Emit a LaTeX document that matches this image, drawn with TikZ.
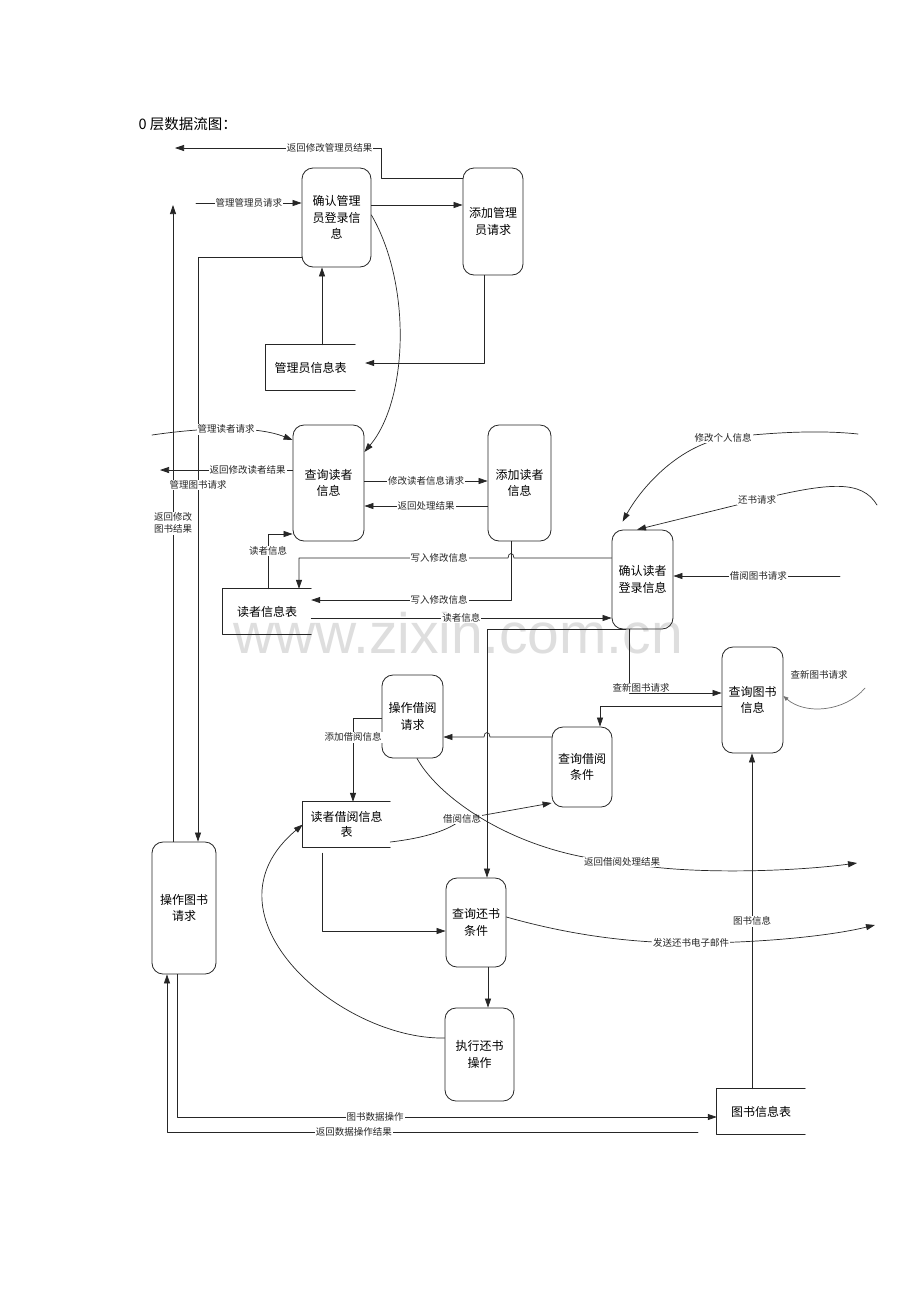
\documentclass[tikz,border=0pt]{standalone}
\usepackage{fontspec}
\newfontfamily\cjk{Noto Sans CJK SC}
\newfontfamily\wmfont{Liberation Sans}
\usetikzlibrary{arrows.meta,calc}

\begin{document}
\begin{tikzpicture}[x=1pt, y=-1pt, line cap=round, line join=round,
  proc/.style={draw=black!85, line width=0.8pt, rounded corners=11pt, align=center, inner sep=0pt,
    font=\cjk\fontsize{12}{16.5}\selectfont},
  datastore/.style={align=center, inner sep=0pt, font=\cjk\fontsize{12}{15}\selectfont},
  wire/.style={draw=black!85, line width=0.8pt},
  flow/.style={draw=black!85, line width=0.7pt, -{Triangle[length=9pt,width=6pt]}},
  lbl/.style={fill=white, inner sep=1pt, text=black!85, font=\cjk\fontsize{9.5}{11}\selectfont}]

% === Page frame ===
\fill[white] (0,0) rectangle (920,1302);
\useasboundingbox (0,0) rectangle (920,1302);
\def\opentab#1{\draw[wire] (#1.north east) -- (#1.north west) -- (#1.south west) -- (#1.south east);}

% === Title and watermark ===
\node[text=black!13, font=\wmfont\fontsize{57}{60}\selectfont] (wmark) at (458,633) {www.zixin.com.cn};
\node[anchor=west, font=\cjk\fontsize{14.5}{16}\selectfont] (title) at (135,124) {0 层数据流图：};

% === Processes ===
\node[proc, minimum width=69pt, minimum height=99pt]  (cfmadm)  at (336.5,217.5)  {确认管理\\员登录信\\息};
\node[proc, minimum width=60pt, minimum height=107pt] (addadm)  at (493,221.5)    {添加管理\\员请求};
\node[proc, minimum width=71pt, minimum height=116pt] (qryrdr)  at (328.5,483)    {查询读者\\信息};
\node[proc, minimum width=63pt, minimum height=116pt] (addrdr)  at (519.5,483)    {添加读者\\信息};
\node[proc, minimum width=61pt, minimum height=99pt]  (cfmrdr)  at (642.5,579.5)  {确认读者\\登录信息};
\node[proc, minimum width=61pt, minimum height=106pt] (qrybook) at (752.5,700)    {查询图书\\信息};
\node[proc, minimum width=61pt, minimum height=83pt]  (oplend)  at (412.5,716.5)  {操作借阅\\请求};
\node[proc, minimum width=60pt, minimum height=80pt]  (qrylend) at (582,767)      {查询借阅\\条件};
\node[proc, minimum width=64pt, minimum height=132pt] (opbook)  at (184,908)      {操作图书\\请求};
\node[proc, minimum width=60pt, minimum height=89pt]  (qryret)  at (476,922.5)    {查询还书\\条件};
\node[proc, minimum width=69pt, minimum height=93pt]  (doret)   at (479.5,1054.5) {执行还书\\操作};

% === Data stores ===
\node[datastore, minimum width=89pt, minimum height=45pt] (admtab)  at (310.5,367.5) {管理员信息表};
\node[datastore, minimum width=88pt, minimum height=45pt] (rdrtab)  at (267,611.5)   {读者信息表};
\node[datastore, minimum width=87pt, minimum height=45pt] (lendtab) at (346.5,824.5) {读者借阅信息\\表};
\node[datastore, minimum width=88pt, minimum height=45pt] (booktab) at (761,1111.5)  {图书信息表};
\opentab{admtab}
\opentab{rdrtab}
\opentab{lendtab}
\opentab{booktab}

% === Administrator flows ===
\coordinate (retadm) at (175,148);
\coordinate (reqadm) at (196,203);
\draw[flow] (addadm.west |- 0,178) -- (381,178) -- (381,148) -- node[lbl, pos=0.25] (lretadm) {返回修改管理员结果} (retadm);
\draw[flow] (reqadm) -- node[lbl] (lreqadm) {管理管理员请求} (cfmadm.west |- reqadm);
\draw[flow] (cfmadm.east |- 0,205) -- (addadm.west |- 0,205);
\draw[flow] (admtab.north -| 322,0) -- (cfmadm.south -| 322,0);
\draw[flow] (addadm.south -| 484,0) |- ($(admtab.east)+(10,-4.5)$);
\draw[flow] (cfmadm.east |- 0,215) .. controls (412,285) and (408,400) .. (qryrdr.east |- 0,452);

% === Left trunk lines ===
\coordinate (retbook) at (173,205);
\draw[flow] (opbook.north -| retbook) -- node[lbl, align=center, font=\cjk\fontsize{9.5}{12}\selectfont] (lretbook) {返回修改\\图书结果} (retbook);
\draw[flow] (cfmadm.west |- 0,257) -- (198,257) -- node[lbl, pos=0.39] (lmgbook) {管理图书请求} (opbook.north -| 198,0);

% === Reader flows ===
\coordinate (reqrdr) at (152,435);
\coordinate (retrdr) at (160,470);
\draw[flow] (reqrdr) .. controls (200,428) and (255,425) .. node[lbl] (lreqrdr) {管理读者请求} (qryrdr.west |- 0,440);
\draw[flow] (qryrdr.west |- retrdr) -- node[lbl, pos=0.34] (lretrdr) {返回修改读者结果} (retrdr);
\draw[flow] (qryrdr.east |- 0,481) -- node[lbl] (lmodrdr) {修改读者信息请求} (addrdr.west |- 0,481);
\draw[flow] (addrdr.west |- 0,506) -- node[lbl] (lretproc) {返回处理结果} (qryrdr.east |- 0,506);
\draw[flow] (rdrtab.north -| 268,0) -- node[lbl, pos=0.69] (lrdrinfo) {读者信息} (268,534) -- (qryrdr.west |- 0,534);
\draw[flow] (cfmrdr.west |- 0,558) -- (514,558) .. controls (514,552) and (508,552) .. (508,558)
  -- node[lbl, pos=0.33] (lwrite1) {写入修改信息} (299,558) -- (rdrtab.north -| 299,0);
\draw[flow] (addrdr.south -| 511,0) |- node[lbl, pos=0.68] (lwrite2) {写入修改信息} (rdrtab.east |- 0,600);
\draw[flow] (rdrtab.east |- 0,618) -- node[lbl] (lrdrinfo2) {读者信息} (cfmrdr.west |- 0,618);

% === Incoming reader requests ===
\coordinate (modme) at (858,434);
\coordinate (retreq) at (877,505);
\coordinate (lendreq) at (840,576);
\draw[flow] (modme) .. controls (820,430) and (775,432) .. (723,438) node[lbl] (lmodme) {修改个人信息}
  .. controls (675,448) and (640,490) .. ($(cfmrdr.north west)+(11,-8)$);
\draw[flow] (retreq) .. controls (862,480) and (830,482) .. (757,500) node[lbl] (lretreq) {还书请求} -- (cfmrdr.north -| 637,0);
\draw[flow] (lendreq) -- node[lbl, pos=0.49] (llendreq) {借阅图书请求} (cfmrdr.east |- lendreq);

% === Lending flows ===
\draw[flow] (cfmrdr.south -| 626,0) -| (qryret.north -| 487,0);
\draw[flow] (cfmrdr.south -| 629,0) |- node[lbl, pos=0.5, xshift=12pt, yshift=5pt] (lnewreq) {查新图书请求} (qrybook.west |- 0,693);
\coordinate (newbook) at (865,688);
\draw[flow, draw=black!55, -{Triangle[length=5pt,width=4pt]}] (newbook) .. controls (845,712) and (805,715) .. (qrybook.east |- 0,696);
\node[lbl, fill=none] (lnewbook) at (819,675) {查新图书请求};
\draw[flow] (qrybook.west |- 0,706) -| (qrylend.north -| 600,0);
\draw[flow] (qrylend.west |- 0,737) -- (490,737) .. controls (490,731) and (484,731) .. (484,737) -- (oplend.east |- 0,737);
\draw[flow] (oplend.west |- 0,718) -- (353,718) -- node[lbl, pos=0.23] (laddlend) {添加借阅信息} (lendtab.north -| 353,0);
\draw[flow] (lendtab.east |- 0,842) .. controls (425,838) and (450,830) .. (462,819) node[lbl] (llendinfo) {借阅信息} -- (qrylend.west |- 0,803);
\coordinate (retlend) at (857,863);
\draw[flow] (oplend.south -| 417,0) .. controls (440,800) and (520,855) .. (622,862) node[lbl] (lretlend) {返回借阅处理结果}
  .. controls (680,875) and (790,872) .. (retlend);

% === Return flows ===
\draw[flow] ($(lendtab.south)+(-24.5,6)$) |- (qryret.west |- 0,931);
\draw[flow] (qryret.south -| 488,0) -- (doret.north -| 488,0);
\draw[flow] (doret.west |- 0,1038) .. controls (340,1040) and (195,915) .. (lendtab.west);
\coordinate (mail) at (875,925);
\draw[flow] (qryret.east |- 0,917) .. controls (570,935) and (630,943) .. (691,943) node[lbl] (lmail) {发送还书电子邮件}
  .. controls (760,943) and (830,936) .. (mail);

% === Book flows ===
\draw[flow] (booktab.north -| 752,0) -- node[lbl] (lbookinfo) {图书信息} (qrybook.south -| 752,0);
\draw[flow] (opbook.south -| 177,0) -- (177,1117) -- node[lbl, pos=0.367] (lbookop) {图书数据操作} (booktab.west |- 0,1117);
\coordinate (retdata) at (698,1132);
\draw[flow] (retdata) -- node[lbl, pos=0.648] (lretdata) {返回数据操作结果} (167,1132) -- (opbook.south -| 167,0);
\end{tikzpicture}
\end{document}
